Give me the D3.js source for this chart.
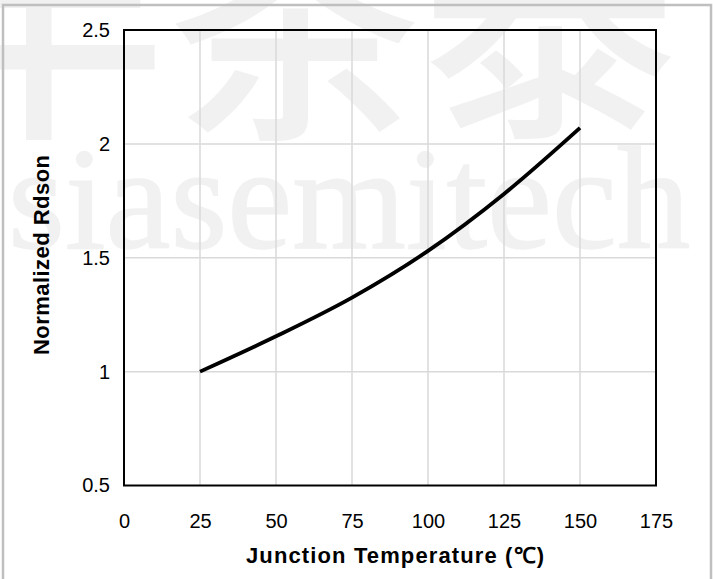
<!DOCTYPE html>
<html>
<head>
<meta charset="utf-8">
<script src="https://cdn.jsdelivr.net/npm/d3@7"></script>
<style>
  html, body { margin: 0; padding: 0; background: #fff; }
  svg { display: block; }
</style>
</head>
<body>
<svg id="chart" width="713" height="579"></svg>
<script>
// ---- data ----
const temperatures = [25, 50, 75, 100, 125, 150];
const rdsonValues = [1.0, 1.155, 1.325, 1.53, 1.78, 2.07];
const xTicks = [0, 25, 50, 75, 100, 125, 150, 175];
const yTicks = [0.5, 1, 1.5, 2, 2.5];
const xTitle = "Junction Temperature (℃)";
const yTitle = "Normalized Rdson";
const watermarkLatin = "siasemitech";
const watermarkCJK = "半茶泰";

const svg = d3.select("#chart");
const W = 713, H = 579;
const margin = { left: 124, right: W - 656, top: 30, bottom: H - 485.5 };

const x = d3.scaleLinear().domain([0, 175]).range([margin.left, W - margin.right]);
const y = d3.scaleLinear().domain([0.5, 2.5]).range([H - margin.bottom, margin.top]);

// watermark (faint)
svg.append("text")
  .attr("x", -88).attr("y", 118)
  .attr("font-family", "Noto Sans CJK SC")
  .attr("font-weight", 500)
  .attr("font-size", 255)
  .attr("fill", "#f1f1f1")
  .text(watermarkCJK);
svg.append("text")
  .attr("x", 8).attr("y", 248)
  .attr("font-family", "Liberation Serif, DejaVu Serif, serif")
  .attr("font-size", 146)
  .attr("textLength", 682)
  .attr("lengthAdjust", "spacingAndGlyphs")
  .attr("fill", "#f1f1f1")
  .attr("stroke", "#f1f1f1").attr("stroke-width", 1.5)
  .text(watermarkLatin);

// outer frame
svg.append("rect")
  .attr("x", 3).attr("y", 5).attr("width", 708).attr("height", 600)
  .attr("fill", "none").attr("stroke", "#bfbfbf").attr("stroke-width", 2.5);

// gridlines
const grid = svg.append("g");
grid.selectAll(".vg").data(xTicks.slice(1, -1)).enter().append("line")
  .attr("x1", d => x(d)).attr("x2", d => x(d))
  .attr("y1", y(0.5)).attr("y2", y(2.5))
  .attr("stroke", "#d9d9d9").attr("stroke-width", 1.5);
grid.selectAll(".hg").data(yTicks.slice(1, -1)).enter().append("line")
  .attr("x1", x(0)).attr("x2", x(175))
  .attr("y1", d => y(d)).attr("y2", d => y(d))
  .attr("stroke", "#d9d9d9").attr("stroke-width", 1.5);

// plot border
svg.append("rect")
  .attr("x", x(0)).attr("y", y(2.5))
  .attr("width", x(175) - x(0)).attr("height", y(0.5) - y(2.5))
  .attr("fill", "none").attr("stroke", "#000").attr("stroke-width", 2);

// axes (labels only)
const fontTicks = "Liberation Sans, Arial, sans-serif";
const xAxis = svg.append("g")
  .attr("transform", `translate(0,${y(0.5)})`)
  .call(d3.axisBottom(x).tickValues(xTicks).tickSize(0).tickPadding(28).tickFormat(d3.format("d")));
xAxis.select(".domain").remove();
xAxis.selectAll("text").attr("font-family", fontTicks).attr("font-size", 20).attr("fill", "#000");

const yAxis = svg.append("g")
  .attr("transform", `translate(${x(0)},0)`)
  .call(d3.axisLeft(y).tickValues(yTicks).tickSize(0).tickPadding(14).tickFormat(d => String(d)));
yAxis.select(".domain").remove();
yAxis.selectAll("text").attr("font-family", fontTicks).attr("font-size", 20).attr("fill", "#000");

// curve
const line = d3.line()
  .x((d, i) => x(temperatures[i]))
  .y(d => y(d))
  .curve(d3.curveMonotoneX);
svg.append("path")
  .datum(rdsonValues)
  .attr("d", line)
  .attr("fill", "none")
  .attr("stroke", "#000")
  .attr("stroke-width", 3.8)
  .attr("stroke-linecap", "butt");

// axis titles
svg.append("text")
  .attr("x", 395).attr("y", 563)
  .attr("text-anchor", "middle")
  .attr("font-family", fontTicks).attr("font-weight", "bold")
  .attr("font-size", 22).attr("fill", "#000")
  .attr("textLength", 298).attr("lengthAdjust", "spacing")
  .text(xTitle);
svg.append("text")
  .attr("transform", `translate(49,255) rotate(-90)`)
  .attr("text-anchor", "middle")
  .attr("font-family", fontTicks).attr("font-weight", "bold")
  .attr("font-size", 22).attr("fill", "#000")
  .attr("textLength", 200).attr("lengthAdjust", "spacing")
  .text(yTitle);
</script>
</body>
</html>
